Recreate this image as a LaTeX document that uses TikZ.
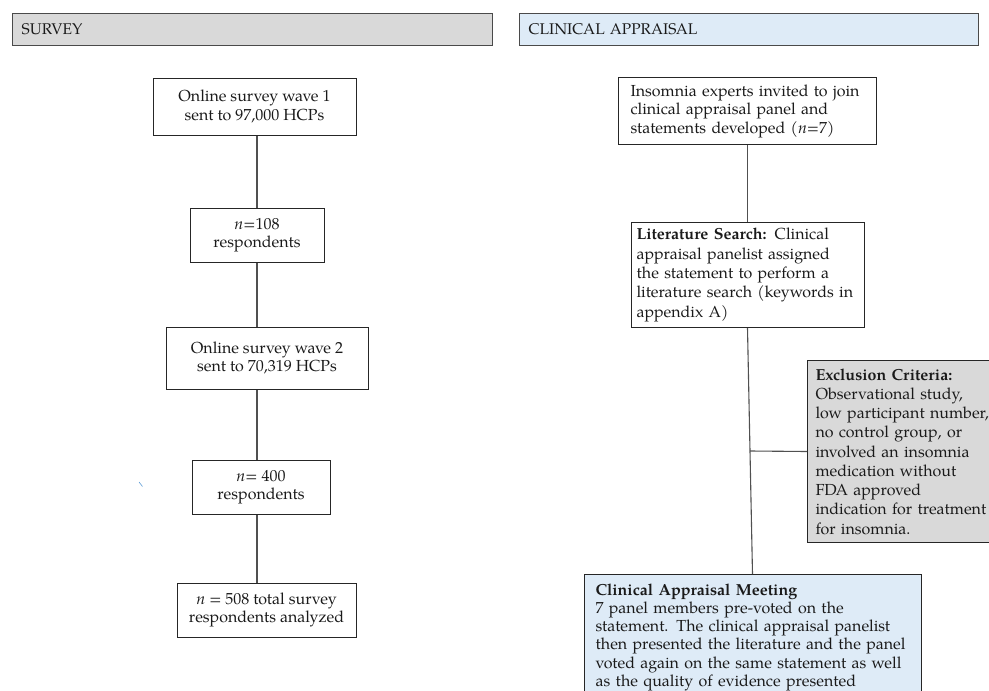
\documentclass[tikz,border=0pt]{standalone}
\usepackage{fontspec}
\setmainfont{TeX Gyre Pagella}
\usetikzlibrary{calc}
\definecolor{hdrgray}{HTML}{D9D9D9}
\definecolor{hdrblue}{HTML}{DEEBF7}
\definecolor{hdredge}{HTML}{4A4A4A}
\definecolor{boxedge}{HTML}{262626}
\definecolor{linecol}{HTML}{505050}
\definecolor{txt}{HTML}{1A1A1A}
\definecolor{tick}{HTML}{5B9BD5}
\begin{document}
\begin{tikzpicture}[x=1pt,y=-1pt,
  every node/.style={text=txt},
  header/.style={draw=hdredge, line width=1.3pt, anchor=north west, inner xsep=9pt, inner ysep=0pt,
    align=left, font=\fontsize{15.5}{18}\selectfont},
  cbox/.style={draw=boxedge, line width=1pt, inner sep=0pt, align=center,
    font=\fontsize{16}{18.5}\selectfont},
  lbox/.style={draw=boxedge, line width=1pt, anchor=north west, inner ysep=0pt, align=left,
    font=\fontsize{16}{18.5}\selectfont},
  conn/.style={draw=linecol, line width=1.1pt}
]
\useasboundingbox (0,0) rectangle (989,691);
\clip (0,0) rectangle (989,691);

% headers
\node[header, fill=hdrgray, minimum width=480pt, minimum height=32pt, text width=462pt] (hs) at (12,13) {SURVEY};
\node[header, fill=hdrblue, minimum width=459pt, minimum height=32pt, text width=441pt] (hc) at (519,13) {CLINICAL APPRAISAL};

% survey column
\coordinate (spine) at (257,0);
\node[cbox, minimum width=203pt, minimum height=57pt] (s1) at (254.5,106.5) {Online survey wave 1\\sent to 97,000 HCPs};
\node[cbox, minimum width=134pt, minimum height=54pt] (s2) at (257,235) {\textit{n}=108\\respondents};
\node[cbox, minimum width=202pt, minimum height=62pt] (s3) at (267,358) {Online survey wave 2\\sent to 70,319 HCPs};
\node[cbox, minimum width=138pt, minimum height=54pt] (s4) at (261,487) {\textit{n}= 400\\respondents};
\node[cbox, minimum width=179pt, minimum height=54pt] (s5) at (266.5,610) {\textit{n} = 508 total survey\\respondents analyzed};

\draw[conn] (s1.south -| spine) -- (s2.north -| spine);
\draw[conn] (s2.south -| spine) -- (s3.north -| spine);
\draw[conn] (s3.south -| spine) -- (s4.north -| spine);
\draw[conn] (s4.south -| spine) -- (s5.north -| spine);

% clinical appraisal column
\node[lbox, inner xsep=12pt, minimum width=258pt, minimum height=67pt, text width=234pt] (r1) at (618,77)
  {Insomnia experts invited to join\\clinical appraisal panel and\\statements developed (\textit{n}=7)};
\node[lbox, inner xsep=5pt, minimum width=233pt, minimum height=105pt, text width=223pt,
  font=\fontsize{16}{19.3}\selectfont] (r2) at (631,222)
  {\textbf{Literature Search:} Clinical\\appraisal panelist assigned\\the statement to perform a\\literature search (keywords in\\appendix A)};
\node[lbox, fill=hdrgray, inner xsep=8pt, minimum width=190pt, minimum height=182pt, text width=174pt,
  font=\fontsize{16}{19.25}\selectfont] (ex) at (807,360)
  {\textbf{Exclusion Criteria:}\\Observational study,\\\mbox{low participant number,}\\no control group, or\\involved an insomnia\\medication without\\FDA approved\\\mbox{indication for treatment}\\for insomnia.};
\node[lbox, fill=hdrblue, inner xsep=11pt, inner ysep=9pt, minimum width=337pt, text width=315pt, text depth=130pt,
  font=\fontsize{16}{18.3}\selectfont] (mt) at (584,574)
  {\textbf{Clinical Appraisal Meeting}\\7 panel members pre-voted on the\\statement. The clinical appraisal panelist\\then presented the literature and the panel\\voted again on the same statement as well\\as the quality of evidence presented};

\coordinate (top) at (747.5,0);
\coordinate (bot) at (752.5,0);
\draw[conn] (r1.south -| top) -- (r2.north -| top);
\draw[conn] (r2.south -| top) -- (mt.north -| bot);
\coordinate (branch) at ($(r2.south -| top)!0.5!(mt.north -| bot)$);
\draw[conn] (branch) -- (ex.west);

% small stray mark
\draw[tick, line width=0.6pt] (139,482) -- (142.5,486.5);
\end{tikzpicture}
\end{document}
